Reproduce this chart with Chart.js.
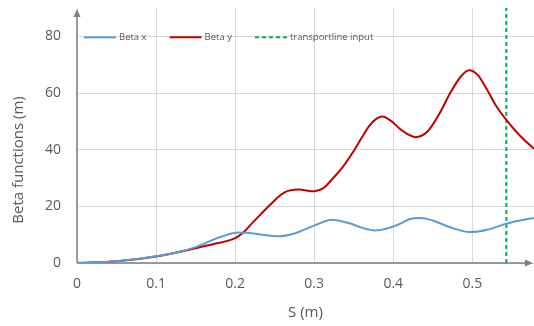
<!DOCTYPE html>
<html lang="en">
<head>
  <meta charset="UTF-8">
  <title>Beta functions</title>
  <script src="https://cdn.jsdelivr.net/npm/chart.js"></script>
  <style>
    html, body { margin: 0; padding: 0; background: #fff; }
    #wrap { width: 534px; height: 326px; }
  </style>
</head>
<body>
  <div id="wrap"><canvas id="myChart"></canvas></div>

  <script>
    // values
    const betaXS = [0, 0.05, 0.1, 0.125, 0.15, 0.173, 0.19, 0.204, 0.219, 0.236, 0.255, 0.275, 0.3, 0.322, 0.345, 0.362, 0.377, 0.395, 0.409, 0.421, 0.434, 0.45, 0.47, 0.4975, 0.52, 0.543, 0.56, 0.578];
    const betaX  = [0, 0.6, 2.4, 3.6, 5.6, 8.3, 10.0, 10.8, 10.6, 9.9, 9.4, 10.4, 13.2, 15.3, 14.0, 12.3, 11.5, 12.4, 13.9, 15.5, 15.9, 15.0, 12.8, 10.9, 11.8, 13.9, 15.0, 15.9];

    const betaYS = [0, 0.05, 0.1, 0.15, 0.173, 0.19, 0.2, 0.21, 0.223, 0.244, 0.261, 0.28, 0.3, 0.312, 0.324, 0.335, 0.351, 0.36, 0.37, 0.378, 0.386, 0.398, 0.409, 0.418, 0.428, 0.443, 0.459, 0.472, 0.486, 0.496, 0.507, 0.518, 0.53, 0.543, 0.56, 0.578];
    const betaY  = [0, 0.6, 2.3, 5.2, 6.7, 7.8, 8.8, 10.7, 14.5, 20.5, 24.7, 25.9, 25.3, 26.5, 30.0, 33.5, 40.0, 44.2, 48.5, 50.8, 51.7, 50.0, 47.2, 45.5, 44.4, 46.3, 53.0, 60.0, 66.0, 68.0, 66.3, 61.5, 55.5, 50.5, 45.0, 40.3];

    const inputS = 0.543;
    const xTicks = [0, 0.1, 0.2, 0.3, 0.4, 0.5];
    const yTicks = [0, 20, 40, 60, 80];

    const toPoints = (xs, ys) => xs.map((x, i) => ({ x: x, y: ys[i] }));

    const gray = '#595959';
    const axisGray = '#7F7F7F';
    const font = '"Open Sans", sans-serif';

    // axis lines with arrows, y title and the in-plot legend
    const decor = {
      id: 'decor',
      beforeDatasetsDraw(chart) {
        const { ctx, chartArea: a } = chart;
        ctx.save();
        ctx.strokeStyle = axisGray;
        ctx.fillStyle = axisGray;
        ctx.lineWidth = 1.5;
        ctx.beginPath();
        ctx.moveTo(a.left, a.bottom);
        ctx.lineTo(a.left, a.top + 6);
        ctx.moveTo(a.left, a.bottom);
        ctx.lineTo(a.right - 8, a.bottom);
        ctx.stroke();
        ctx.beginPath();
        ctx.moveTo(a.left, a.top + 1);
        ctx.lineTo(a.left - 3.5, a.top + 9);
        ctx.lineTo(a.left + 3.5, a.top + 9);
        ctx.fill();
        ctx.beginPath();
        ctx.moveTo(a.right - 1, a.bottom);
        ctx.lineTo(a.right - 9, a.bottom - 3.5);
        ctx.lineTo(a.right - 9, a.bottom + 3.5);
        ctx.fill();
        ctx.restore();
      },
      afterDraw(chart) {
        const { ctx, chartArea: a } = chart;
        ctx.save();
        // y axis title
        ctx.translate(19, 160);
        ctx.rotate(-Math.PI / 2);
        ctx.fillStyle = gray;
        ctx.font = '15px ' + font;
        ctx.textAlign = 'center';
        ctx.textBaseline = 'middle';
        ctx.fillText('Beta functions (m)', 0, 0);
        ctx.restore();

        // legend
        ctx.save();
        ctx.font = '9.5px ' + font;
        ctx.textBaseline = 'middle';
        let x = a.left + 7;
        const y = chart.scales.y.getPixelForValue(80) + 1;
        chart.data.datasets.forEach(ds => {
          ctx.strokeStyle = ds.borderColor;
          ctx.lineWidth = 2;
          ctx.setLineDash(ds.borderDash || []);
          ctx.beginPath();
          ctx.moveTo(x, y);
          ctx.lineTo(x + 32, y);
          ctx.stroke();
          ctx.setLineDash([]);
          ctx.fillStyle = gray;
          ctx.fillText(ds.label, x + 35, y);
          x += 35 + ctx.measureText(ds.label).width + 23;
        });
        ctx.restore();
      }
    };

    const ctx = document.getElementById('myChart').getContext('2d');
    new Chart(ctx, {
      type: 'line',
      data: {
        datasets: [{
          label: 'Beta x',
          data: toPoints(betaXS, betaX),
          borderColor: '#5B9BD5',
          borderWidth: 2,
          pointRadius: 0,
          cubicInterpolationMode: 'monotone'
        }, {
          label: 'Beta y',
          data: toPoints(betaYS, betaY),
          borderColor: '#C00000',
          borderWidth: 2,
          pointRadius: 0,
          cubicInterpolationMode: 'monotone'
        }, {
          label: 'transportline input',
          data: [{ x: inputS, y: 0 }, { x: inputS, y: 90 }],
          borderColor: '#00B050',
          borderWidth: 2,
          borderDash: [4, 3],
          pointRadius: 0
        }]
      },
      options: {
        responsive: true,
        maintainAspectRatio: false,
        animation: false,
        layout: { padding: { top: 8, right: 0, left: 0, bottom: 0 } },
        plugins: { legend: { display: false }, tooltip: { enabled: false } },
        scales: {
          x: {
            type: 'linear',
            min: 0,
            max: 0.578,
            afterBuildTicks: s => { s.ticks = xTicks.map(v => ({ value: v })); },
            afterFit: s => { s.height = 63; s.paddingLeft = 0; s.paddingRight = 0; },
            grid: { color: '#D9D9D9', drawTicks: false },
            border: { display: false },
            ticks: {
              padding: 13,
              color: gray,
              font: { family: font, size: 14 },
              callback: v => String(v)
            },
            title: {
              display: true,
              text: 'S (m)',
              color: gray,
              padding: { top: 3 },
              font: { family: font, size: 15 }
            }
          },
          y: {
            min: 0,
            max: 90,
            afterBuildTicks: s => { s.ticks = yTicks.map(v => ({ value: v })); },
            afterFit: s => { s.width = 77; s.paddingTop = 0; s.paddingBottom = 0; },
            grid: { color: '#D9D9D9', drawTicks: false },
            border: { display: false },
            ticks: {
              padding: 16,
              color: gray,
              font: { family: font, size: 14 }
            }
          }
        }
      },
      plugins: [decor]
    });
  </script>
</body>
</html>
